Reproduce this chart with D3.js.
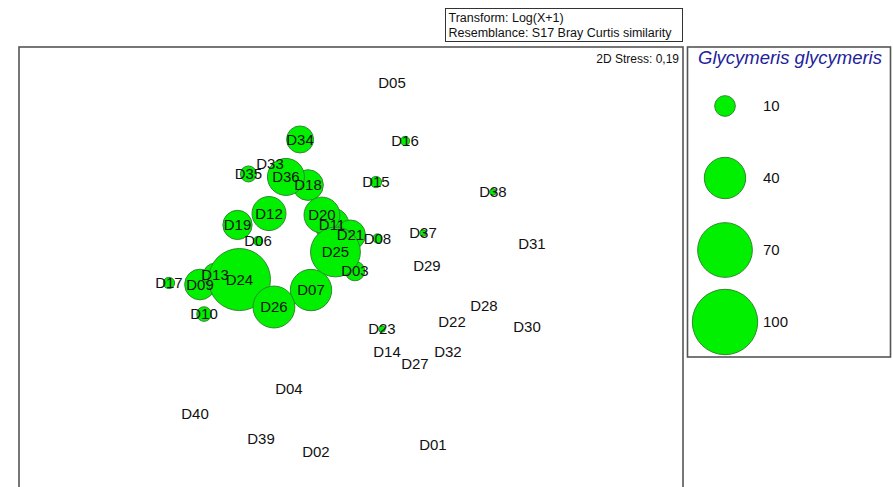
<!DOCTYPE html>
<html>
<head>
<meta charset="utf-8">
<script src="https://cdn.jsdelivr.net/npm/d3@7"></script>
<style>
  html, body { margin: 0; padding: 0; background: #fff; }
  svg { display: block; font-family: "Liberation Sans", Arial, sans-serif; }
</style>
</head>
<body>
<svg id="chart" width="893" height="487"></svg>
<script>
// ---- data (NMDS coordinates, arbitrary units) ----
const samples = ["D01","D02","D03","D04","D05","D06","D07","D08","D09","D10",
                 "D11","D12","D13","D14","D15","D16","D17","D18","D19","D20",
                 "D21","D22","D23","D24","D25","D26","D27","D28","D29","D30",
                 "D31","D32","D33","D34","D35","D36","D37","D38","D39","D40"];
const mds1 = [ 0.553,-0.227, 0.033,-0.407, 0.280,-0.613,-0.260, 0.183,-1.000,-0.973,
              -0.120,-0.540,-0.900, 0.247, 0.173, 0.367,-1.207,-0.280,-0.750,-0.187,
               0.003, 0.680, 0.213,-0.737,-0.097,-0.507, 0.433, 0.893, 0.513, 1.180,
               1.213, 0.653,-0.533,-0.333,-0.677,-0.427, 0.487, 0.953,-0.593,-1.033];
const mds2 = [-1.200,-1.247,-0.040,-0.827, 1.213, 0.160,-0.167, 0.177,-0.130,-0.327,
               0.267, 0.343,-0.067,-0.580, 0.553, 0.827,-0.120, 0.533, 0.267, 0.333,
               0.200,-0.380,-0.427,-0.097, 0.087,-0.280,-0.660,-0.273,-0.007,-0.413,
               0.140,-0.580, 0.673, 0.837, 0.607, 0.587, 0.213, 0.487,-1.160,-0.993];
const abundance = [ 0, 0, 9, 0, 0, 2,40, 2,22, 5,
                   27,27,13, 0, 3, 2, 3,22,20,30,
                   21, 0, 1,90,58,41, 0, 0, 0, 0,
                    0, 0, 0,17, 6,32, 1, 1, 0, 0];
const legendValues = [10, 40, 70, 100];
const speciesName = "Glycymeris glycymeris";
const headerLines = ["Transform: Log(X+1)", "Resemblance: S17 Bray Curtis similarity"];
const stressText = "2D Stress: 0,19";

// ---- setup ----
const svg = d3.select("#chart");
const x = d3.scaleLinear().domain([-1, 1]).range([200, 500]);
const y = d3.scaleLinear().domain([-1, 1]).range([415, 115]);
const r = d3.scaleSqrt().domain([0, 100]).range([0, 32.7]);

const fillGreen = "#00f000";
const strokeGreen = "#2e8a2e";

// header box
svg.append("rect").attr("x", 445.5).attr("y", 8.5).attr("width", 237).attr("height", 33)
  .attr("fill", "#fff").attr("stroke", "#333").attr("stroke-width", 1);
svg.selectAll("text.hdr").data(headerLines).join("text")
  .attr("class", "hdr")
  .attr("x", 448.5)
  .attr("y", (d, i) => 21.5 + i * 15)
  .attr("font-size", 12.5)
  .attr("fill", "#111")
  .text(d => d);

// plot frame
svg.append("rect").attr("x", 19).attr("y", 47).attr("width", 664).attr("height", 470)
  .attr("fill", "none").attr("stroke", "#555").attr("stroke-width", 1.6);

svg.append("text").attr("x", 679).attr("y", 63)
  .attr("text-anchor", "end").attr("font-size", 12).attr("fill", "#111")
  .text(stressText);

// bubbles
const data = samples.map((s, i) => ({name: s, x: mds1[i], y: mds2[i], v: abundance[i]}));
svg.append("g").selectAll("circle").data(data.filter(d => d.v > 0)).join("circle")
  .attr("cx", d => x(d.x)).attr("cy", d => y(d.y)).attr("r", d => r(d.v))
  .attr("fill", fillGreen).attr("stroke", strokeGreen).attr("stroke-width", 1);

svg.append("g").selectAll("text").data(data).join("text")
  .attr("x", d => x(d.x)).attr("y", d => y(d.y))
  .attr("dy", "0.36em")
  .attr("text-anchor", "middle")
  .attr("font-size", 15)
  .attr("fill", "#111")
  .text(d => d.name);

// legend
svg.append("rect").attr("x", 687.5).attr("y", 47).attr("width", 203).attr("height", 310)
  .attr("fill", "#fff").attr("stroke", "#555").attr("stroke-width", 1.6);
svg.append("text").attr("x", 790).attr("y", 64)
  .attr("text-anchor", "middle").attr("font-size", 18.5).attr("font-style", "italic")
  .attr("fill", "#22229a").text(speciesName);

const ly = d3.scalePoint().domain(legendValues).range([106, 322]);
const lg = svg.append("g");
lg.selectAll("circle").data(legendValues).join("circle")
  .attr("cx", 725).attr("cy", d => ly(d)).attr("r", d => r(d))
  .attr("fill", fillGreen).attr("stroke", strokeGreen).attr("stroke-width", 1);
lg.selectAll("text").data(legendValues).join("text")
  .attr("x", 763).attr("y", d => ly(d)).attr("dy", "0.36em")
  .attr("font-size", 15).attr("fill", "#111").text(d => d);
</script>
</body>
</html>
